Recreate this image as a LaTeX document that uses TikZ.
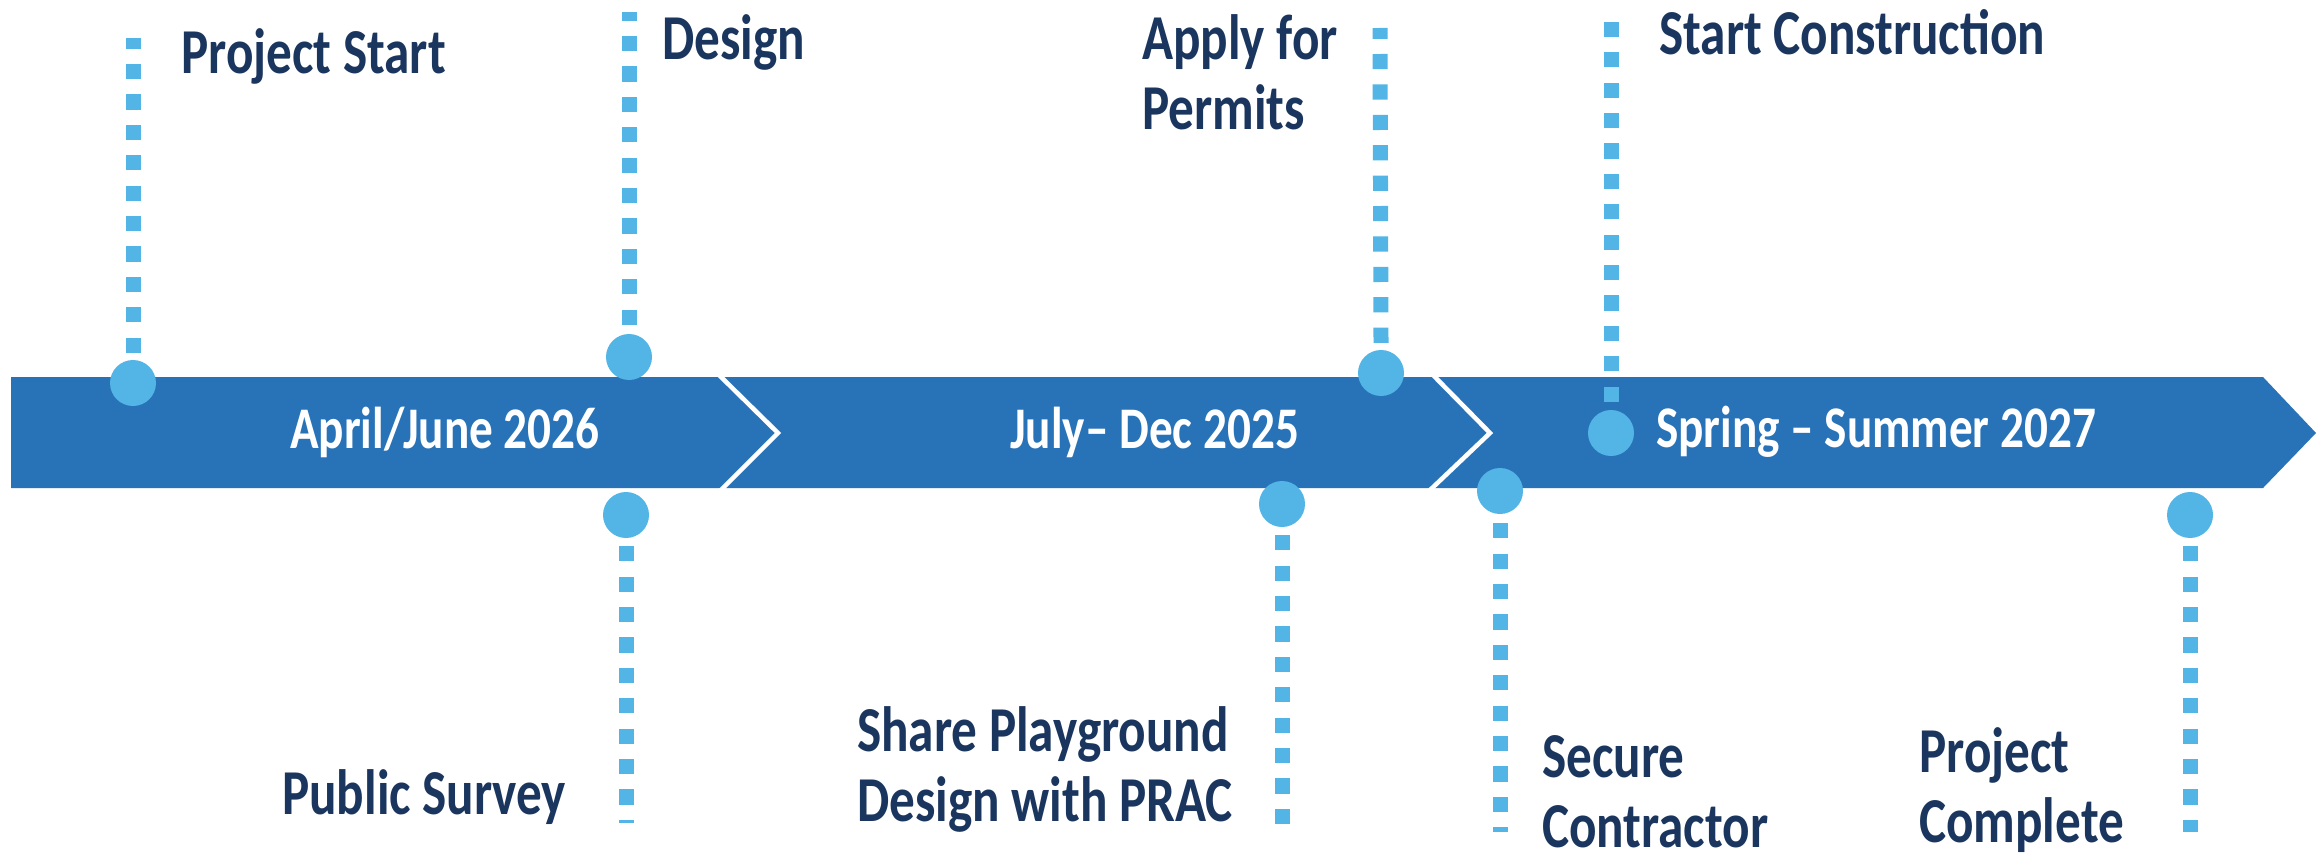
\documentclass[tikz,border=0pt]{standalone}
\usepackage{fontspec}
\setmainfont{Carlito}[FakeStretch=0.8]
\definecolor{barblue}{HTML}{2873B8}
\definecolor{dotblue}{HTML}{52B5E6}
\definecolor{navy}{HTML}{1B365E}
\begin{document}
\begin{tikzpicture}[x=1pt,y=-1pt,
  dot/.style={circle,fill=dotblue,inner sep=0pt,minimum size=46pt},
  dashline/.style={draw=dotblue,line width=15pt,dash pattern=on 15.2pt off 15.2pt},
  label/.style={anchor=base west,inner sep=0pt,text=navy,align=left,font=\fontsize{64}{70}\selectfont\bfseries},
  bartext/.style={anchor=base west,inner sep=0pt,text=white,font=\fontsize{59}{60}\selectfont\bfseries},
  chev/.style={draw=white,line width=4.5pt}]
\useasboundingbox (0,0) rectangle (2318,853);
% bar
\fill[barblue] (11,377) -- (2263,377) -- (2316,433) -- (2263,488) -- (11,488) -- cycle;
\draw[chev] (718,374) -- (778,433) -- (720,491);
\draw[chev] (1432,374) -- (1490,433) -- (1429,491);
% bar texts
\node[bartext] (t1) at (290,448) {April/June 2026};
\node[bartext] (t2) at (1010,448) {July– Dec 2025};
\node[bartext] (t3) at (1656,447) {Spring – Summer 2027};
% dots
\node[dot] (d1) at (133,383) {};
\node[dot] (d2) at (629,357) {};
\node[dot] (d3) at (626,515) {};
\node[dot] (d4) at (1282,504) {};
\node[dot] (d5) at (1381,373) {};
\node[dot] (d6) at (1611,433) {};
\node[dot] (d7) at (1500,491) {};
\node[dot] (d8) at (2190,515) {};
% line ends
\coordinate (e1) at (133,38);
\coordinate (e2) at (629,12);
\coordinate (e3) at (626,823);
\coordinate (e4) at (1282,825);
\coordinate (e5) at (1380,28);
\coordinate (e6) at (1611,19);
\coordinate (e7) at (1500,832);
\coordinate (e8) at (2190,832);
\draw[dashline] (d1.north) ++(0,-7) -- (e1);
\draw[dashline] (d2.north) ++(0,-9) -- (e2);
\draw[dashline] (d3.south) ++(0,8) -- (e3);
\draw[dashline] (d4.south) ++(0,8) -- (e4);
\draw[dashline] (d5.north) ++(0,-7) -- (e5);
\draw[dashline] (d6.north) ++(0,-8) -- (e6);
\draw[dashline] (d7.south) ++(0,9) -- (e7);
\draw[dashline] (d8.south) ++(0,8) -- (e8);
% labels
\node[label] (l1) at (181,74) {Project Start};
\node[label] (l2) at (662,60) {Design};
\node[label] (l5) at (1142,130) {Apply for\\Permits};
\node[label] (l6) at (1659,55) {Start Construction};
\node[label] (l3) at (282,814) {Public Survey};
\node[label] (l4) at (857,821) {Share Playground\\Design with PRAC};
\node[label] (l7) at (1542,847) {Secure\\Contractor};
\node[label] (l8) at (1919,842) {Project\\Complete};
\end{tikzpicture}
\end{document}
